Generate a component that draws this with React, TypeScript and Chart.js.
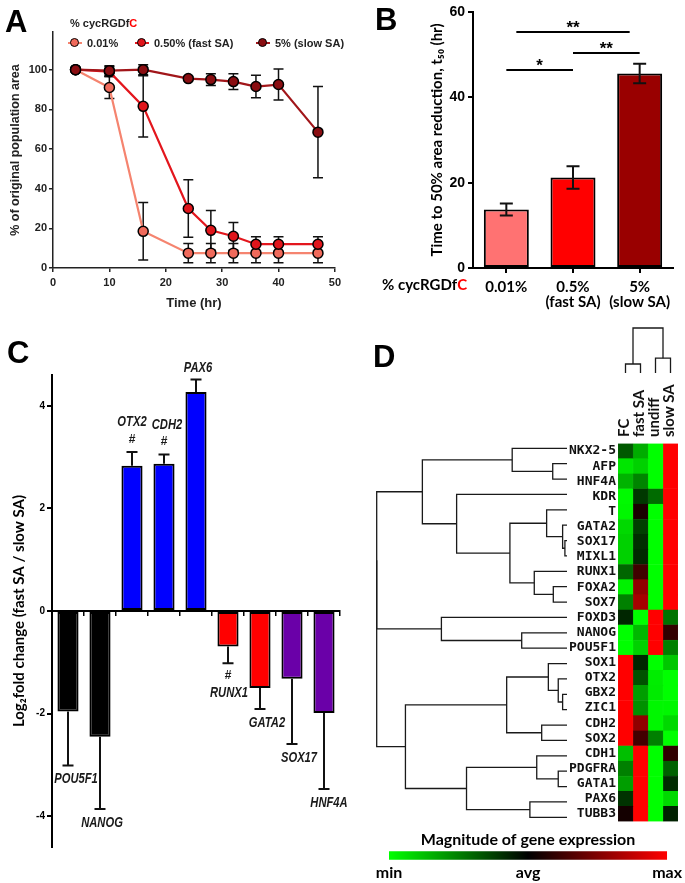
import React, { useEffect, useRef } from 'react';
import { Chart, registerables } from 'chart.js';
Chart.register(...registerables);

// ---------------- Panel A data ----------------
const timeHr = [4, 10, 16, 24, 28, 32, 36, 40, 47];
const area001 = [100, 91, 18.5, 7.5, 7.5, 7.5, 7.5, 7.5, 7.5];
const area001Err = [0.5, 5.5, 14.5, 4.8, 4.8, 4.8, 4.8, 4.8, 4.8];
const area050 = [100, 99, 81.5, 30, 19, 16, 12, 12, 12];
const area050Err = [0.5, 2.5, 15.5, 14.5, 10, 7, 3.8, 3.8, 3.8];
const area5 = [100, 99.5, 100, 95.5, 95, 94, 91.5, 92.5, 68.5];
const area5Err = [0.5, 2.5, 2.5, 1, 3, 4, 5.7, 7.8, 23];
const seriesA = ['0.01%', '0.50% (fast SA)', '5% (slow SA)'];

// ---------------- Panel B data ----------------
const bLabels = [['0.01%'], ['0.5%', '(fast SA)'], ['5%', '(slow SA)']];
const t50 = [13.7, 21.2, 45.6];
const t50Err = [1.4, 2.65, 2.3];
const sigFrom = [0, 1, 0.15];
const sigTo = [1, 2, 1.85];
const sigLevel = [46.4, 50.4, 55.3];
const sigText = ['*', '**', '**'];

// ---------------- Panel C data ----------------
const genesC = ['POU5F1', 'NANOG', 'OTX2', 'CDH2', 'PAX6', 'RUNX1', 'GATA2', 'SOX17', 'HNF4A'];
const log2fc = [-1.96, -2.45, 2.83, 2.87, 4.27, -0.69, -1.5, -1.32, -1.99];
const log2fcErr = [1.05, 1.41, 0.27, 0.18, 0.24, 0.33, 0.41, 1.27, 1.48];
const sigMarks = ['', '', '#', '#', '', '#', '', '', ''];
const cTicks = [-4, -2, 0, 2, 4];

// ---------------- Panel D data ----------------
const genesD = ['NKX2-5', 'AFP', 'HNF4A', 'KDR', 'T', 'GATA2', 'SOX17', 'MIXL1', 'RUNX1', 'FOXA2', 'SOX7',
  'FOXD3', 'NANOG', 'POU5F1', 'SOX1', 'OTX2', 'GBX2', 'ZIC1', 'CDH2', 'SOX2', 'CDH1', 'PDGFRA', 'GATA1', 'PAX6', 'TUBB3'];
const conditions = ['FC', 'fast SA', 'undiff', 'slow SA'];
const exprFC = [-0.35, -0.9, -0.7, -0.98, -0.97, -0.85, -0.82, -0.82, -0.4, -0.95, -0.5, -0.15, -1, -1, 1, 1, 1, 1, 1, 1, -0.75, -0.5, -0.62, -0.2, 0.08];
const exprFast = [-0.68, -0.82, -0.52, -0.22, 0.1, -0.25, -0.18, -0.16, 0.25, 0.57, 0.65, -1, -0.72, -0.82, -0.15, -0.32, -0.62, -0.57, 0.57, 0.26, 1, 1, 1, 1, 1];
const exprUndiff = [-1, -1, -1, -0.42, -1, -1, -1, -1, -1, -1, -1, 1, 1, 1, -1, -0.93, -0.92, -0.97, -0.97, -0.5, -1, -1, -1, -1, -1];
const exprSlow = [1, 1, 1, 1, 1, 1, 1, 1, 1, 1, 1, -0.45, 0.2, -0.5, -0.78, -1, -1, -0.97, -0.85, -1, 0.19, -0.38, -0.17, -0.85, -0.13];
// row linkage: [nodeA, nodeB, height]; leaves 0..24, new nodes from 25
const rowLinkage = [
  [6, 7, 0.011], [5, 25, 0.023], [16, 17, 0.023], [15, 27, 0.046], [21, 22, 0.046],
  [9, 10, 0.072], [1, 2, 0.075], [14, 28, 0.098], [4, 26, 0.107], [18, 19, 0.133],
  [20, 29, 0.159], [8, 30, 0.172], [23, 24, 0.195], [12, 13, 0.238], [0, 31, 0.288],
  [33, 36, 0.3], [32, 34, 0.317], [35, 37, 0.528], [3, 40, 0.58], [11, 38, 0.66],
  [39, 43, 0.76], [41, 42, 0.849], [45, 44, 1.0], [47, 46, 1.0],
];
const colLinkage = [[0, 1, 0.2], [2, 3, 0.33], [4, 5, 1.0]];
const colorbarTicks = ['min', 'avg', 'max'];

// ---------------- helpers ----------------
const LIB = "'Liberation Sans', Arial, sans-serif";
const CAL = "Lato, 'Open Sans', sans-serif";
const MONO = "'DejaVu Sans Mono', 'Liberation Mono', monospace";

Chart.defaults.color = '#000';
Chart.defaults.font.family = LIB;

const heatColor = (v: number) =>
  v < 0 ? `rgb(0,${Math.round(255 * -v)},0)` : `rgb(${Math.round(255 * v)},0,0)`;

function dendro(linkage: number[][], nLeaves: number) {
  const pos: number[] = [];
  const ht: number[] = [];
  for (let i = 0; i < nLeaves; i++) { pos.push(i); ht.push(0); }
  const segs: { h: number; p: number }[][] = [];
  linkage.forEach(([a, b, h]) => {
    segs.push([{ h: ht[a], p: pos[a] }, { h, p: pos[a] }, { h, p: pos[b] }, { h: ht[b], p: pos[b] }]);
    pos.push((pos[a] + pos[b]) / 2);
    ht.push(h);
  });
  return segs;
}

function errorBars(id: string, errs: number[][], mode: 'both' | 'out', halfCap: number, lw: number, when: 'before' | 'after') {
  const draw = (chart: any) => {
    const { ctx } = chart;
    const ys = chart.scales.y;
    ctx.save();
    ctx.strokeStyle = '#111';
    ctx.lineWidth = lw;
    chart.data.datasets.forEach((ds: any, di: number) => {
      const e = errs[di];
      if (!e) return;
      const meta = chart.getDatasetMeta(di);
      meta.data.forEach((el: any, i: number) => {
        const raw = ds.data[i];
        const v = typeof raw === 'number' ? raw : raw.y;
        let hi = v + e[i], lo = v - e[i];
        if (mode === 'out') { if (v >= 0) lo = v; else hi = v; }
        const yh = ys.getPixelForValue(hi), yl = ys.getPixelForValue(lo);
        ctx.beginPath();
        ctx.moveTo(el.x, yh); ctx.lineTo(el.x, yl);
        if (mode === 'both' || v >= 0) { ctx.moveTo(el.x - halfCap, yh); ctx.lineTo(el.x + halfCap, yh); }
        if (mode === 'both' || v < 0) { ctx.moveTo(el.x - halfCap, yl); ctx.lineTo(el.x + halfCap, yl); }
        ctx.stroke();
      });
    });
    ctx.restore();
  };
  return when === 'before' ? { id, beforeDatasetsDraw: draw } : { id, afterDatasetsDraw: draw };
}

// ---------------- configs ----------------
const base = { responsive: false, animation: false, devicePixelRatio: 1 };
const noPlug = { legend: { display: false }, tooltip: { enabled: false }, title: { display: false } };

function configA(): any {
  const mk = (i: number, vals: number[], line: string, fill: string, order: number) => ({
    label: seriesA[i],
    data: timeHr.map((t, k) => ({ x: t, y: vals[k] })),
    borderColor: line, backgroundColor: fill, borderWidth: 2.2,
    pointRadius: 5, pointBorderColor: '#000', pointBorderWidth: 1.5, pointBackgroundColor: fill,
    order, tension: 0,
  });
  const axisCol = '#222';
  return {
    type: 'line',
    data: {
      datasets: [
        mk(0, area001, '#F5846F', '#F06A5B', 3),
        mk(1, area050, '#E3161D', '#E0151B', 2),
        mk(2, area5, '#A1161A', '#8A0E12', 1),
      ],
    },
    options: {
      ...base,
      layout: { padding: { left: 8, right: 10, top: 32, bottom: 9 } },
      plugins: noPlug,
      scales: {
        x: {
          type: 'linear', min: 0, max: 50,
          ticks: { stepSize: 10, padding: 4, color: axisCol, font: { family: LIB, size: 11, weight: 'bold' } },
          grid: { drawOnChartArea: false, tickLength: 4, color: axisCol, lineWidth: 1.5 },
          border: { color: axisCol, width: 1.5 },
          title: { display: true, text: 'Time (hr)', color: axisCol, padding: 0, font: { family: LIB, size: 13, weight: 'bold' } },
          afterFit: (s: any) => { s.height = 43; },
        },
        y: {
          min: 0, max: 119,
          ticks: { stepSize: 20, includeBounds: false, padding: 2, color: axisCol, font: { family: LIB, size: 11, weight: 'bold' } },
          grid: { drawOnChartArea: false, tickLength: 4, color: axisCol, lineWidth: 1.5 },
          border: { color: axisCol, width: 1.5 },
          title: { display: true, text: '% of original population area', color: axisCol, padding: 0, font: { family: LIB, size: 12.5, weight: 'bold' } },
          afterFit: (s: any) => { s.width = 45; },
        },
      },
    },
    plugins: [errorBars('errA', [area001Err, area050Err, area5Err], 'both', 5, 1.5, 'before')],
  };
}

function configB(): any {
  const sigPlugin = {
    id: 'sigB',
    afterDatasetsDraw(chart: any) {
      const { ctx } = chart;
      const xs = chart.scales.x, ys = chart.scales.y;
      ctx.save();
      ctx.strokeStyle = '#000'; ctx.lineWidth = 2; ctx.fillStyle = '#000';
      ctx.font = `bold 17px ${LIB}`; ctx.textAlign = 'center'; ctx.textBaseline = 'alphabetic';
      sigLevel.forEach((lv, i) => {
        const x1 = xs.getPixelForValue(sigFrom[i]);
        const x2 = xs.getPixelForValue(sigTo[i]);
        const y = ys.getPixelForValue(lv);
        ctx.beginPath(); ctx.moveTo(x1, y); ctx.lineTo(x2, y); ctx.stroke();
        ctx.fillText(sigText[i], (x1 + x2) / 2, y + 1);
      });
      ctx.restore();
    },
  };
  return {
    type: 'bar',
    data: {
      labels: bLabels,
      datasets: [{
        data: t50, backgroundColor: ['#FF7272', '#FF0000', '#990000'], borderColor: '#000', borderWidth: 2,
        borderSkipped: false, barPercentage: 0.675, categoryPercentage: 1,
      }],
    },
    options: {
      ...base,
      layout: { padding: { left: 88, right: 12, top: 12, bottom: 2 } },
      plugins: noPlug,
      scales: {
        x: {
          ticks: { padding: 6, color: '#000', maxRotation: 0, autoSkip: false, font: { family: CAL, size: 15, weight: 'bold', lineHeight: 1.05 } },
          grid: { drawOnChartArea: false, offset: false, tickLength: 5, color: '#000', lineWidth: 2 },
          border: { color: '#000', width: 2 },
          afterFit: (s: any) => { s.height = 50; },
        },
        y: {
          min: 0, max: 60,
          ticks: { stepSize: 20, padding: 3, color: '#000', font: { family: LIB, size: 14, weight: 'bold' } },
          grid: { drawOnChartArea: false, tickLength: 5, color: '#000', lineWidth: 2 },
          border: { color: '#000', width: 2 },
          title: { display: true, text: 'Time to 50% area reduction, t₅₀ (hr)', color: '#000', padding: 0, font: { family: CAL, size: 15, weight: 'bold' } },
          afterFit: (s: any) => { s.width = 45; },
        },
      },
    },
    plugins: [errorBars('errB', [t50Err], 'both', 6.5, 2, 'after'), sigPlugin],
  };
}

function configC(): any {
  const labelPlugin = {
    id: 'labC',
    afterDatasetsDraw(chart: any) {
      const { ctx } = chart;
      const ys = chart.scales.y;
      const meta = chart.getDatasetMeta(0);
      const dx = [8, 2, 0, 3, 2, 1, 7, 7, 5];
      ctx.save();
      ctx.fillStyle = '#1a1a1a'; ctx.textAlign = 'center'; ctx.textBaseline = 'middle';
      meta.data.forEach((el: any, i: number) => {
        const v = log2fc[i], e = log2fcErr[i];
        const s = v >= 0 ? -1 : 1;
        const end = ys.getPixelForValue(v >= 0 ? v + e : v - e);
        let off = v >= 0 ? 11 : 14;
        if (sigMarks[i]) {
          ctx.font = `bold 12px ${LIB}`;
          ctx.fillText(sigMarks[i], el.x, end + s * 12.5);
          off = 29.5;
        }
        ctx.save();
        ctx.translate(el.x + dx[i], end + s * off);
        ctx.scale(0.8, 1);
        ctx.font = `italic bold 14px ${LIB}`;
        ctx.fillText(genesC[i], 0, 0);
        ctx.restore();
      });
      ctx.restore();
    },
  };
  return {
    type: 'bar',
    data: {
      labels: genesC,
      datasets: [{
        data: log2fc,
        backgroundColor: ['#000000', '#000000', '#0000FF', '#0000FF', '#0000FF', '#FF0000', '#FF0000', '#6A00A8', '#6A00A8'],
        borderColor: '#000', borderWidth: 2, borderSkipped: false, barPercentage: 0.66, categoryPercentage: 1,
      }],
    },
    options: {
      ...base,
      layout: { padding: { left: 10, right: 12, top: 45, bottom: 36 } },
      plugins: noPlug,
      scales: {
        x: {
          position: { y: 0 },
          ticks: { display: false },
          grid: { drawOnChartArea: false, offset: true, tickLength: 4, color: '#000', lineWidth: 1.5 },
          border: { color: '#000', width: 2 },
        },
        y: {
          min: -4.6, max: 4.6,
          afterBuildTicks: (s: any) => { s.ticks = cTicks.map((v) => ({ value: v })); },
          ticks: { padding: 2, color: '#000', font: { family: LIB, size: 10, weight: 'bold' } },
          grid: { drawOnChartArea: false, tickLength: 5, color: '#000', lineWidth: 2 },
          border: { color: '#000', width: 2 },
          title: { display: true, text: 'Log₂fold change (fast SA / slow SA)', color: '#000', padding: 0, font: { family: CAL, size: 15, weight: 'bold' } },
          afterFit: (s: any) => { s.width = 42; },
        },
      },
    },
    plugins: [errorBars('errC', [log2fcErr], 'out', 5.5, 2, 'after'), labelPlugin],
  };
}

function configRowDendro(): any {
  const segs = dendro(rowLinkage, genesD.length);
  return {
    type: 'scatter',
    data: {
      datasets: segs.map((sg) => ({
        data: sg.map((p) => ({ x: p.h, y: p.p })), showLine: true, borderColor: '#1a1a1a', borderWidth: 1.3,
        pointRadius: 0, tension: 0, clip: false,
      })),
    },
    options: {
      ...base,
      layout: { padding: { left: 6.7, right: 3, top: 5.6, bottom: 5 } },
      plugins: noPlug,
      scales: {
        x: { type: 'linear', min: 0, max: 1, reverse: true, display: false },
        y: { type: 'linear', min: -0.5, max: genesD.length - 0.5, reverse: true, display: false },
      },
    },
  };
}

function configColDendro(): any {
  const segs = dendro(colLinkage, conditions.length);
  return {
    type: 'scatter',
    data: {
      datasets: segs.map((sg) => ({
        data: sg.map((p) => ({ x: p.p + 0.5, y: p.h })), showLine: true, borderColor: '#1a1a1a', borderWidth: 1.3,
        pointRadius: 0, tension: 0, clip: false,
      })),
    },
    options: {
      ...base,
      layout: { padding: { left: 6, right: 6, top: 6, bottom: 4 } },
      plugins: noPlug,
      scales: {
        x: { type: 'linear', min: 0, max: conditions.length, display: false },
        y: { type: 'linear', min: 0, max: 1, display: false },
      },
    },
  };
}

function configHeat(): any {
  const cols = [exprFC, exprFast, exprUndiff, exprSlow];
  return {
    type: 'bar',
    data: {
      labels: genesD,
      datasets: cols.map((vals, c) => ({
        label: conditions[c],
        data: genesD.map(() => 1),
        backgroundColor: vals.map(heatColor),
        borderColor: vals.map(heatColor),
        borderWidth: 0.4, borderSkipped: false, barPercentage: 1, categoryPercentage: 1,
      })),
    },
    options: {
      ...base,
      indexAxis: 'y',
      layout: { padding: { left: 0, right: 7, top: 5.6, bottom: 5 } },
      plugins: noPlug,
      scales: {
        x: { type: 'linear', stacked: true, min: 0, max: conditions.length, display: false },
        y: {
          stacked: true,
          ticks: { autoSkip: false, padding: 2, color: '#111', font: { family: MONO, size: 13, weight: 'bold', lineHeight: 1 } },
          grid: { display: false, drawTicks: false },
          border: { display: false },
          afterFit: (s: any) => { s.width = 58; },
        },
      },
    },
  };
}

function configColorbar(): any {
  return {
    type: 'bar',
    data: {
      labels: [''],
      datasets: [{
        data: [2],
        backgroundColor: (c: any) => {
          const ca = c.chart.chartArea;
          if (!ca) return '#000';
          const g = c.chart.ctx.createLinearGradient(ca.left, 0, ca.right, 0);
          g.addColorStop(0, heatColor(-1));
          g.addColorStop(0.5, heatColor(0));
          g.addColorStop(1, heatColor(1));
          return g;
        },
        borderWidth: 0, barPercentage: 1, categoryPercentage: 1,
      }],
    },
    options: {
      ...base,
      indexAxis: 'y',
      layout: { padding: { left: 29, right: 17, top: 0, bottom: 0 } },
      plugins: {
        ...noPlug,
        title: {
          display: true, text: 'Magnitude of gene expression', fullSize: false, color: '#000',
          padding: { top: 4, bottom: 2 }, font: { family: CAL, size: 16, weight: 'bold' },
        },
      },
      scales: {
        x: {
          min: 0, max: 2,
          ticks: { stepSize: 1, padding: 3, color: '#000', callback: (v: any) => colorbarTicks[v], font: { family: CAL, size: 16, weight: 'bold' } },
          grid: { display: false, drawTicks: false },
          border: { display: false },
          afterFit: (s: any) => { s.height = 23.2; },
        },
        y: { display: false },
      },
    },
  };
}

// ---------------- components ----------------
function ChartBox({ left, top, width, height, make }: any) {
  const ref = useRef<HTMLCanvasElement>(null);
  useEffect(() => {
    const chart = new Chart(ref.current as HTMLCanvasElement, make());
    return () => chart.destroy();
  }, []);
  return (
    <canvas ref={ref} width={width} height={height}
      style={{ position: 'absolute', left, top, width, height, display: 'block' }} />
  );
}

function Txt({ left, top, size, family, children, style }: any) {
  return (
    <div style={{
      position: 'absolute', left, top, fontFamily: family || LIB, fontSize: size, fontWeight: 'bold',
      lineHeight: `${size}px`, whiteSpace: 'nowrap', color: '#000', ...style,
    }}>{children}</div>
  );
}

function LegendItem({ x, line, fill, label }: any) {
  return (
    <>
      <div style={{ position: 'absolute', left: x - 7, top: 42, width: 14, height: 2.2, background: line }} />
      <div style={{ position: 'absolute', left: x - 5, top: 38, width: 7, height: 7, borderRadius: '50%', background: fill, border: '1.5px solid #000' }} />
      <Txt left={x + 12} top={37.7} size={11} style={{ color: '#222' }}>{label}</Txt>
    </>
  );
}

export default function App() {
  return (
    <div style={{ position: 'absolute', left: 0, top: 0, width: 685, height: 883, background: '#fff', overflow: 'hidden' }}>
      <ChartBox left={0} top={0} width={345} height={320} make={configA} />
      <ChartBox left={340} top={0} width={345} height={320} make={configB} />
      <ChartBox left={0} top={330} width={352} height={553} make={configC} />
      <ChartBox left={370} top={435} width={200} height={395} make={configRowDendro} />
      <ChartBox left={560} top={435} width={125} height={395} make={configHeat} />
      <ChartBox left={612} top={322} width={72} height={55} make={configColDendro} />
      <ChartBox left={360} top={826} width={325} height={57} make={configColorbar} />

      {/* panel letters */}
      <Txt left={5} top={5.8} size={31}>A</Txt>
      <Txt left={375} top={3.8} size={31}>B</Txt>
      <Txt left={7} top={336.8} size={31}>C</Txt>
      <Txt left={373} top={340.8} size={31}>D</Txt>

      {/* panel A legend */}
      <Txt left={70} top={17.7} size={11} style={{ color: '#222' }}>% cycRGDf<span style={{ color: '#FF0000' }}>C</span></Txt>
      <LegendItem x={75} line="#F5846F" fill="#F06A5B" label={seriesA[0]} />
      <LegendItem x={142} line="#E3161D" fill="#E0151B" label={seriesA[1]} />
      <LegendItem x={263} line="#A1161A" fill="#8A0E12" label={seriesA[2]} />

      {/* panel B axis caption */}
      <Txt left={382} top={276.7} size={15} family={CAL}>% cycRGDf<span style={{ color: '#FF0000' }}>C</span></Txt>

      {/* panel D column labels */}
      {conditions.map((c, i) => (
        <div key={c} style={{
          position: 'absolute', left: 615.5 + 15 * i, top: 437, fontFamily: CAL, fontSize: 15, fontWeight: 'bold',
          lineHeight: '15px', whiteSpace: 'nowrap', transform: 'rotate(-90deg)', transformOrigin: 'left top', color: '#111',
        }}>{c}</div>
      ))}
    </div>
  );
}
